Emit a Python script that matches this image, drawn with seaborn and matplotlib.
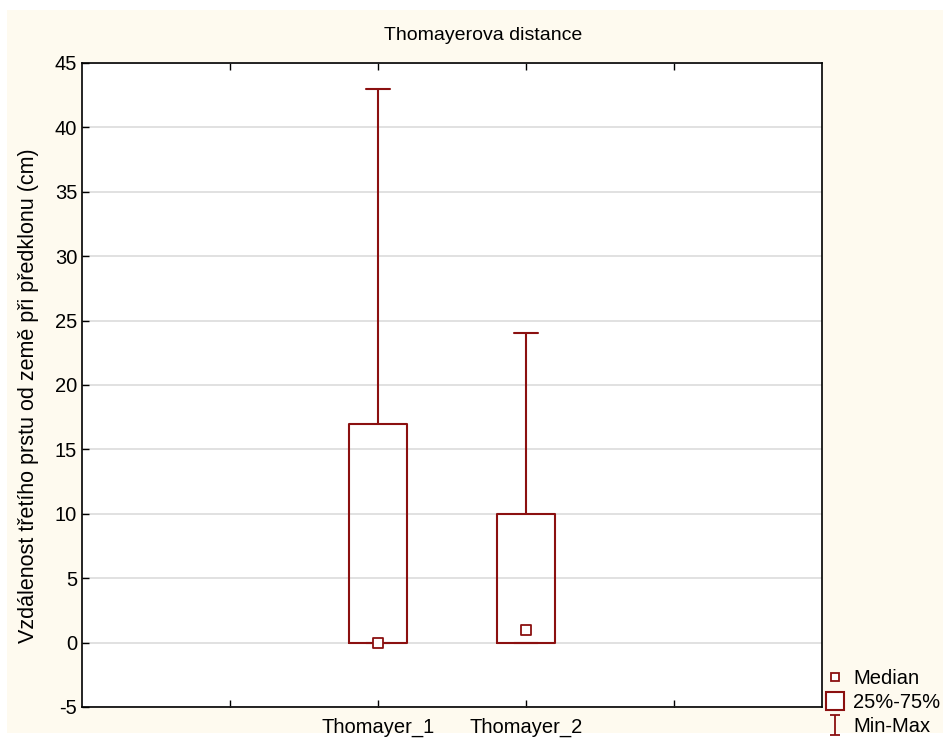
import matplotlib
matplotlib.use("Agg")
import matplotlib.pyplot as plt
from matplotlib.lines import Line2D
from matplotlib.patches import Rectangle
from matplotlib.path import Path
import seaborn as sns
import pandas as pd

# ---- data ----
categories = ["Thomayer_1", "Thomayer_2"]
mins = [0, 0]
q1s = [0, 0]
medians = [0, 1]
q3s = [17, 10]
maxs = [43, 24]

title = "Thomayerova distance"
ylabel = "Vzdálenost třetího prstu od země při předklonu (cm)"
legend_labels = ["Median", "25%-75%", "Min-Max"]

# five-number summary per category as long-form table
rows = []
for c, a, b, m, d, e in zip(categories, mins, q1s, medians, q3s, maxs):
    for v in (a, b, m, d, e):
        rows.append({"cat": c, "val": v})
df = pd.DataFrame(rows)
med_df = pd.DataFrame({"cat": categories, "val": medians})

RED = "#8B1010"
CREAM = "#FEFAEF"

sns.set_style("white")
plt.rcParams["font.family"] = ["Liberation Sans", "DejaVu Sans"]
plt.rcParams["axes.unicode_minus"] = False
plt.rcParams["text.color"] = "black"

fig = plt.figure(figsize=(9.43, 7.42), dpi=100)
fig.patch.set_facecolor("white")
fig.patches.append(Rectangle((7 / 943, 9 / 742), 936 / 943, 723 / 742,
                             transform=fig.transFigure, facecolor=CREAM,
                             edgecolor="none", zorder=-10))
ax = fig.add_axes([82 / 943, 35 / 742, 740 / 943, 644 / 742])
ax.set_facecolor("white")

sns.boxplot(data=df, x="cat", y="val", order=categories, whis=(0, 100),
            width=0.39, fill=False, color=RED, linewidth=1.5,
            capwidths=0.16,
            medianprops={"visible": False}, showfliers=False, ax=ax)
sns.stripplot(data=med_df, x="cat", y="val", order=categories, jitter=False,
              marker="s", size=7, color="white", edgecolor=RED, linewidth=1.3,
              ax=ax, zorder=5)

ax.set_xlim(-2, 3)
ax.set_ylim(-5, 45)
ax.set_xticks([-1, 0, 1, 2])
ax.set_xticklabels(["", categories[0], categories[1], ""])
ax.set_yticks(range(-5, 46, 5))
ax.yaxis.grid(True, color="#DCDCDC", linewidth=1.2)
ax.set_axisbelow(True)
ax.tick_params(axis="both", direction="in", length=5, width=1, labelsize=14.5,
               colors="black", top=True, bottom=True, left=True, right=False)
ax.tick_params(axis="x", pad=8)
for s in ax.spines.values():
    s.set_color("black")
    s.set_linewidth(1.2)
    s.set_visible(True)
ax.set_xlabel("")
ax.set_ylabel(ylabel, fontsize=15.5, color="black")
ax.yaxis.set_label_coords(-0.058, 0.484)
fig.text(483 / 943, 1 - 35 / 742, title, ha="center", va="center", fontsize=14)

# legend
ibeam = Path([(-0.5, -1), (0.5, -1), (0, -1), (0, 1), (-0.5, 1), (0.5, 1)],
             [Path.MOVETO, Path.LINETO, Path.MOVETO, Path.LINETO, Path.MOVETO, Path.LINETO])
handles = [
    Line2D([], [], linestyle="none", marker="s", markersize=6, markerfacecolor="white",
           markeredgecolor=RED, markeredgewidth=1.3),
    Line2D([], [], linestyle="none", marker="s", markersize=13, markerfacecolor="white",
           markeredgecolor=RED, markeredgewidth=1.5),
    Line2D([], [], linestyle="none", marker=ibeam, markersize=14, markerfacecolor="none",
           markeredgecolor=RED, markeredgewidth=1.3),
]
fig.legend(handles, legend_labels, loc="lower left", bbox_to_anchor=(827 / 943, 6 / 742),
           frameon=False, fontsize=14.5, handlelength=0.8, handletextpad=0.5,
           labelspacing=0.25, borderaxespad=0, borderpad=0)

fig.savefig("out.png", dpi=100, facecolor=fig.get_facecolor())
